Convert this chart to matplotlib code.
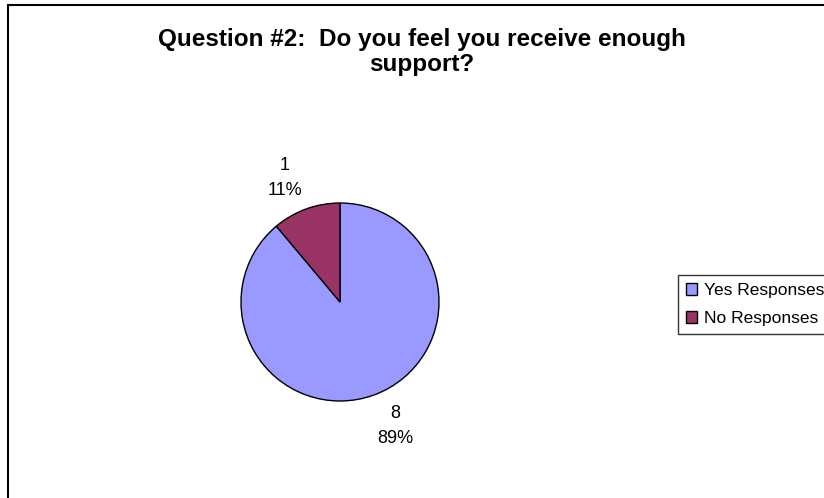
import matplotlib
matplotlib.use("Agg")
import matplotlib.pyplot as plt
import numpy as np
from matplotlib.patches import Rectangle, Patch

plt.rcParams['font.family'] = ['Liberation Sans', 'DejaVu Sans']

# data
categories = ["Yes Responses", "No Responses"]
counts = [8, 1]
colors = ["#9999FF", "#993366"]
title = "Question #2:  Do you feel you receive enough\nsupport?"

fig = plt.figure(figsize=(8.24, 4.98), dpi=100)
W, H = 824, 498

# outer chart frame (cut by the image at right and bottom)
fig.patches.append(Rectangle((8 / W, -0.1), 1.2, 1.1 - 5 / H, transform=fig.transFigure,
                             fill=False, edgecolor="#000000", linewidth=1.5))

fig.text(422 / W, 1 - 52 / H, title, ha="center", va="center", multialignment="center",
         fontsize=17.5, fontweight="bold", linespacing=1.15)

# pie axes: square box in pixels
ax = fig.add_axes([241 / W, 1 - 401 / H, 198 / W, 198 / H])
total = sum(counts)
wedges, _ = ax.pie(counts, colors=colors, startangle=90, counterclock=False,
                   wedgeprops=dict(edgecolor="black", linewidth=1.0))
ax.set_xlim(-1, 1)
ax.set_ylim(-1, 1)

# data labels: value and percent, outside each wedge
for w, c in zip(wedges, counts):
    ang = np.deg2rad((w.theta1 + w.theta2) / 2 + 4)
    d = 1.37
    ax.text(d * np.cos(ang), d * np.sin(ang), "%d\n%d%%" % (c, round(100 * c / total)),
            ha="center", va="center", fontsize=13, linespacing=1.65, clip_on=False)

handles = [Patch(facecolor=c, edgecolor="black", linewidth=1.0) for c in colors]
leg = fig.legend(handles, categories, loc="upper left",
                 bbox_to_anchor=(678 / W, 1 - 275 / H), borderaxespad=0,
                 fontsize=12.5, frameon=True, fancybox=False, edgecolor="black",
                 handlelength=0.65, handleheight=0.65, handletextpad=0.4,
                 labelspacing=0.75, borderpad=0.45)
leg.get_frame().set_linewidth(1.0)

fig.savefig("out.png", dpi=100)
